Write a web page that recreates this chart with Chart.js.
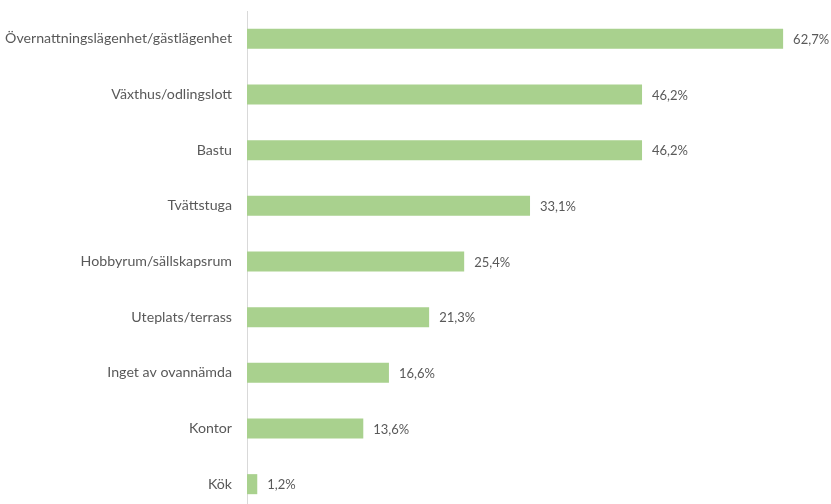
<!DOCTYPE html>
<html>
<head>
<meta charset="utf-8">
<script src="https://cdn.jsdelivr.net/npm/chart.js@4/dist/chart.umd.min.js"></script>
<style>
  html, body { margin: 0; padding: 0; background: #ffffff; overflow: hidden; }
  #wrap { width: 831px; height: 504px; overflow: hidden; position: relative; }
  #c { display: block; }
</style>
</head>
<body>
<div id="wrap"><canvas id="c" width="831" height="524"></canvas></div>
<script>
const categories = [
  'Övernattningslägenhet/gästlägenhet',
  'Växthus/odlingslott',
  'Bastu',
  'Tvättstuga',
  'Hobbyrum/sällskapsrum',
  'Uteplats/terrass',
  'Inget av ovannämda',
  'Kontor',
  'Kök'
];
const shares = [62.7, 46.2, 46.2, 33.1, 25.4, 21.3, 16.6, 13.6, 1.2];

const textColor = '#595959';
const fontFamily = 'Lato, "Open Sans", sans-serif';

// Writes each percentage just past the end of its bar
const valueLabels = {
  id: 'valueLabels',
  afterDatasetsDraw(chart) {
    const ctx = chart.ctx;
    const meta = chart.getDatasetMeta(0);
    ctx.save();
    ctx.font = '13px ' + fontFamily;
    ctx.fillStyle = textColor;
    ctx.textAlign = 'left';
    ctx.textBaseline = 'middle';
    meta.data.forEach((bar, i) => {
      const txt = shares[i].toFixed(1).replace('.', ',') + '%';
      ctx.fillText(txt, bar.x + 10, bar.y + 1);
    });
    ctx.restore();
  }
};

const chart = new Chart(document.getElementById('c'), {
  type: 'bar',
  data: {
    labels: categories,
    datasets: [{
      data: shares,
      backgroundColor: '#a9d18e',
      borderWidth: 0,
      categoryPercentage: 1,
      barPercentage: 0.36
    }]
  },
  options: {
    indexAxis: 'y',
    responsive: false,
    animation: false,
    layout: { padding: { top: 11, bottom: 12, left: 0, right: 0 } },
    plugins: { legend: { display: false }, tooltip: { enabled: false } },
    scales: {
      x: {
        display: false,
        min: 0,
        max: 68.3
      },
      y: {
        grid: { display: false },
        border: { display: true, color: '#d9d9d9', width: 1 },
        ticks: {
          color: textColor,
          font: { family: fontFamily, size: 14.2 },
          padding: 7
        },
        afterFit(scale) {
          scale.width = 247;
          scale.paddingTop = 0;
          scale.paddingBottom = 0;
        }
      }
    }
  },
  plugins: [valueLabels]
});
</script>
</body>
</html>
